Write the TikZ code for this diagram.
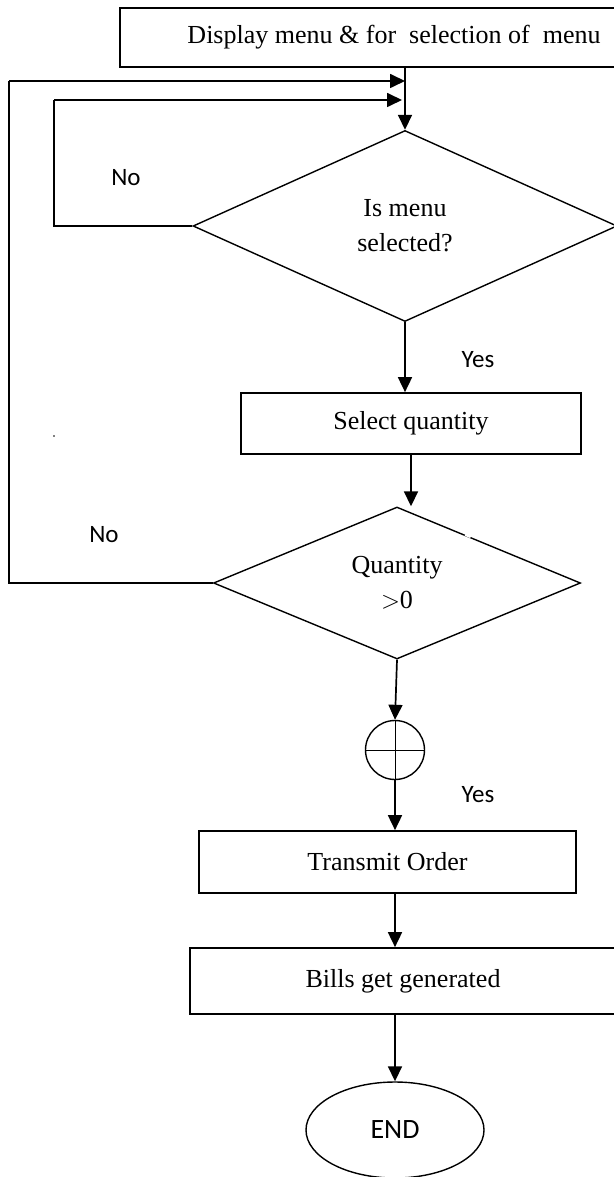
\documentclass[tikz,border=0pt]{standalone}
\usepackage{fontspec}
\setmainfont{Liberation Serif}
\newfontfamily\labelfont{Carlito}
\usetikzlibrary{shapes.geometric,arrows.meta,calc}

\begin{document}
\begin{tikzpicture}[x=1pt,y=-1pt,
  every node/.style={inner sep=0pt},
  txt/.style={font=\fontsize{26}{35}\selectfont, align=center},
  procbox/.style={draw, line width=1.7pt, rectangle, txt},
  decision/.style={draw, line width=1.4pt, diamond, txt},
  flow/.style={line width=1.7pt, -{Triangle[length=15pt,width=14pt]}},
  loopline/.style={line width=1.7pt},
  lbl/.style={font=\labelfont\fontsize{25}{30}\selectfont}
]
\useasboundingbox (0,0) rectangle (613,1177);

% process steps
\node[procbox, minimum width=548pt, minimum height=59pt] (top) at (394,37.5)
  {Display menu \& for\ \ selection of\ \ menu};
\node[decision, minimum width=424pt, minimum height=191pt] (d1) at (405,226)
  {Is menu\\selected?};
\node[procbox, minimum width=340pt, minimum height=61pt] (sq) at (411,423.5)
  {Select quantity};
\node[decision, minimum width=367pt, minimum height=152pt] (qd) at (397,583)
  {Quantity\\${>}$0};
\node[draw, circle, line width=1.4pt, minimum size=59pt] (c) at (395,750) {};
\node[procbox, minimum width=377pt, minimum height=62pt] (tr) at (387.5,862)
  {Transmit Order};
\node[procbox, minimum width=426pt, minimum height=66pt] (bl) at (403,981)
  {Bills get generated};
\node[draw, ellipse, line width=1.4pt, minimum width=178pt, minimum height=96pt,
  font=\labelfont\fontsize{28}{32}\selectfont] (en) at (395,1130) {END};

% break in the upper edge of the quantity test
\draw[white, line width=2.5pt] ($(qd.north)!0.37!(qd.east)$) -- ($(qd.north)!0.40!(qd.east)$);

% cross inside the connector circle
\draw[line width=1pt] (c.north) -- (c.south);
\draw[line width=1pt] (c.west) -- (c.east);

% loop-back corners
\coordinate (o1) at (9,81);
\coordinate (i1) at (54,100);

% main flow
\draw[flow] (d1.north |- top.south) -- (d1.north);
\draw[flow] (d1.south) -- (d1.south |- sq.north);
\draw[flow] (sq.south) -- (sq.south |- qd.north);
\draw[flow] (qd.south) -- (c.north);
\draw[flow] (c.south) -- (c.south |- tr.north);
\draw[flow] (en.north |- tr.south) -- (en.north |- bl.north);
\draw[flow] (en.north |- bl.south) -- (en.north);

% "No" branches returning to the menu
\draw[loopline] (qd.west) -| (o1);
\draw[flow] (o1) -- (o1 -| d1.north);
\draw[loopline] (d1.west) -| (i1);
\draw[flow, shorten >=3pt] (i1) -- (i1 -| d1.north);

% branch labels
\node[lbl] (no1) at (126,178) {No};
\node[lbl] (no2) at (104,535) {No};
\node[lbl] (yes1) at (478,360) {Yes};
\node[lbl] (yes2) at (478,795) {Yes};

% stray full stop
\fill (54,436) circle (0.9pt);
\end{tikzpicture}
\end{document}
